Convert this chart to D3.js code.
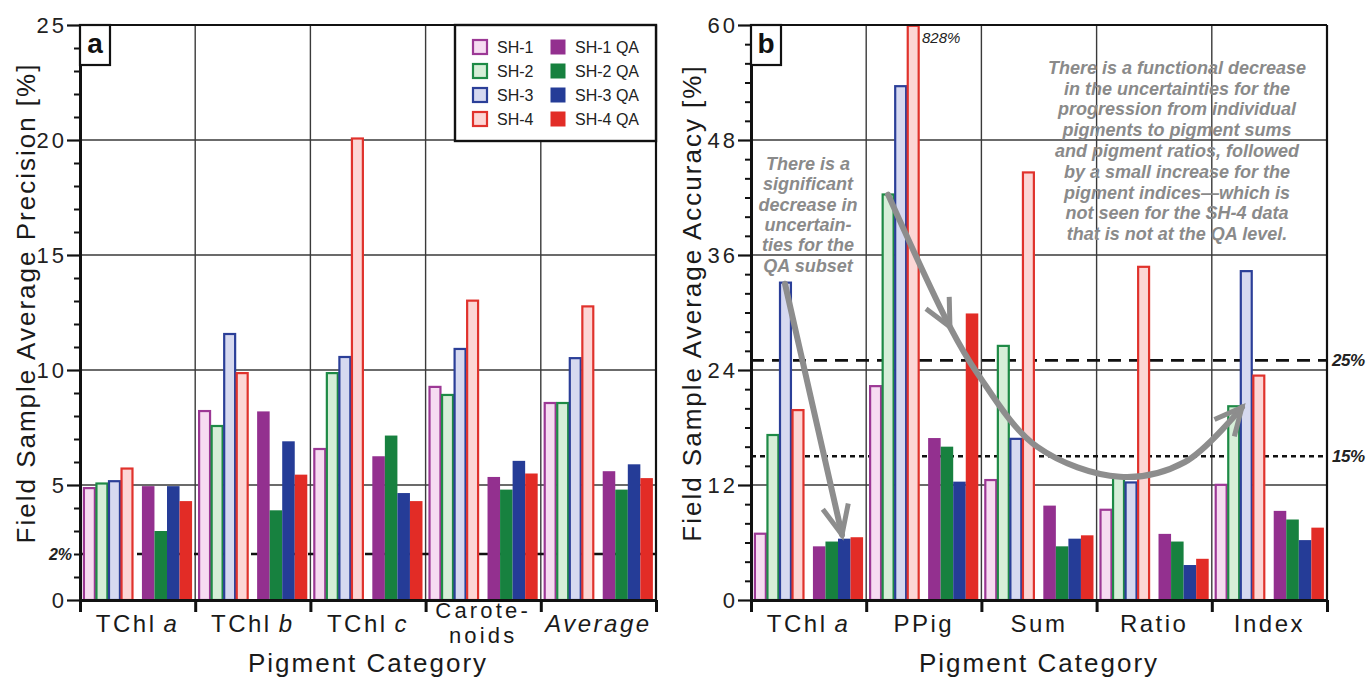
<!DOCTYPE html>
<html><head><meta charset="utf-8">
<script src="https://cdn.jsdelivr.net/npm/d3@7"></script>
<style>
body{margin:0;background:#fff}
svg{display:block}
text{font-family:"Liberation Sans",Arial,Helvetica,sans-serif}
</style>
</head><body>
<svg id="chart" width="1372" height="677"></svg>
<script>
// ---------------- DATA ----------------
const seriesNames = ["SH-1","SH-2","SH-3","SH-4","SH-1 QA","SH-2 QA","SH-3 QA","SH-4 QA"];

// Panel a: Field Sample Average Precision [%]
const catsA = ["TChl a","TChl b","TChl c","Carotenoids","Average"];
const sh1A   = [4.9, 8.25, 6.6, 9.3, 8.6];
const sh2A   = [5.1, 7.6, 9.9, 8.95, 8.6];
const sh3A   = [5.2, 11.6, 10.6, 10.95, 10.55];
const sh4A   = [5.75, 9.9, 20.1, 13.05, 12.8];
const sh1qaA = [4.95, 8.2, 6.25, 5.35, 5.6];
const sh2qaA = [3.0, 3.9, 7.15, 4.8, 4.8];
const sh3qaA = [4.95, 6.9, 4.65, 6.05, 5.9];
const sh4qaA = [4.3, 5.45, 4.3, 5.5, 5.3];
const majorTicksA = [0, 5, 10, 15, 20, 25];
const refA = [2];
const refLabelsA = ["2%"];

// Panel b: Field Sample Average Accuracy [%]
const catsB = ["TChl a","PPig","Sum","Ratio","Index"];
const sh1B   = [7.0, 22.4, 12.6, 9.5, 12.1];
const sh2B   = [17.3, 42.4, 26.6, 13.0, 20.3];
const sh3B   = [33.2, 53.7, 16.9, 12.35, 34.4];
const sh4B   = [19.9, 828, 44.7, 34.85, 23.5];
const sh1qaB = [5.6, 16.9, 9.85, 6.9, 9.3];
const sh2qaB = [6.1, 16.0, 5.6, 6.1, 8.4];
const sh3qaB = [6.4, 12.35, 6.4, 3.65, 6.25];
const sh4qaB = [6.55, 29.9, 6.75, 4.3, 7.55];
const majorTicksB = [0, 12, 24, 36, 48, 60];
const refB = [25, 15];
const refLabelsB = ["25%", "15%"];
const clipLabelB = "828%";

const noteLeft = ["There is a","significant","decrease in","uncertain-","ties for the","QA subset"];
const noteRight = ["There is a functional decrease","in the uncertainties for the","progression from individual",
  "pigments to pigment sums","and pigment ratios, followed","by a small increase for the",
  "pigment indices\u2014which is","not seen for the SH-4 data","that is not at the QA level."];

// annotation arrow paths in data space: [category position, value]
const arrow1 = [[0.295, 33.0], [0.79, 6.8]];
const arrow2 = [[1.19, 42.3], [1.727, 28.5], [1.962, 23.7], [2.483, 16.0], [3.203, 12.85], [3.767, 14.4], [4.262, 20.1]];

// ---------------- STYLE ----------------
const outlineColors = ["#9c3895","#1e8a46","#2b3f98","#e0322c"];
const lightFills    = ["#f6dcf1","#d6eed8","#d6d9f0","#fcd6d5"];
const qaColors      = ["#93308f","#17813f","#253c97","#e22c26"];
const gridColor = "#3a3a3a";
const noteColor = "#8a8a8a";
const T = 25, B = 600;

const svg = d3.select("#chart");

function drawPanel(p) {
  const g = svg.append("g");
  const n = p.cats.length;
  const x0 = d3.scaleBand().domain(p.cats).range([p.L, p.R]).paddingInner(0).paddingOuter(0);
  const xLin = d3.scaleLinear().domain([0, n]).range([p.L, p.R]);
  const y = d3.scaleLinear().domain([0, p.yMax]).range([B, T]).clamp(true);

  // gridlines
  g.append("g").selectAll("line").data(p.major.filter(v => v > 0 && v < p.yMax)).join("line")
    .attr("x1", p.L).attr("x2", p.R).attr("y1", d => y(d)).attr("y2", d => y(d))
    .attr("stroke", gridColor).attr("stroke-width", 1.4);
  g.append("g").selectAll("line").data(d3.range(1, n)).join("line")
    .attr("x1", d => xLin(d)).attr("x2", d => xLin(d)).attr("y1", T).attr("y2", B)
    .attr("stroke", gridColor).attr("stroke-width", 1.4);

  // reference lines
  g.append("g").selectAll("line").data(p.refs).join("line")
    .attr("x1", p.L).attr("x2", p.R).attr("y1", d => y(d)).attr("y2", d => y(d))
    .attr("stroke", "#111").attr("stroke-width", 2.6)
    .attr("stroke-dasharray", (d, i) => p.dash[i]);

  // bars
  const bw = x0.bandwidth();
  const pad = bw * 0.027, gap = bw * 0.075;
  const barW = (bw - 2 * pad - gap) / 8;
  p.series.forEach((vals, s) => {
    const qa = s >= 4, k = s % 4;
    const off = pad + (qa ? 4 * barW + gap : 0) + k * barW;
    g.append("g").selectAll("rect").data(p.cats.map((c, i) => ({c, v: vals[i]}))).join("rect")
      .attr("x", d => x0(d.c) + off + (qa ? 0 : 0.8))
      .attr("width", barW - (qa ? 0 : 1.6))
      .attr("y", d => y(d.v) + (qa ? 0 : 0.8))
      .attr("height", d => y(0) - y(d.v) - (qa ? 0 : 0.8))
      .attr("fill", qa ? qaColors[k] : lightFills[k])
      .attr("stroke", qa ? "none" : outlineColors[k])
      .attr("stroke-width", 2.2);
  });

  // frame: top and right
  g.append("line").attr("x1", p.L).attr("x2", p.R).attr("y1", T).attr("y2", T)
    .attr("stroke", "#111").attr("stroke-width", 2.2);
  g.append("line").attr("x1", p.R).attr("x2", p.R).attr("y1", T).attr("y2", B)
    .attr("stroke", "#111").attr("stroke-width", 2.2);

  // y axis minor
  const minor = d3.range(0, p.yMax + 0.001, p.minorStep).filter(v => !p.major.includes(v));
  g.append("g").attr("transform", `translate(${p.L},0)`)
    .call(d3.axisLeft(y).tickValues(minor).tickSize(6).tickSizeOuter(0).tickFormat(""))
    .call(a => a.select(".domain").remove())
    .call(a => a.selectAll(".tick line").attr("stroke", "#111").attr("stroke-width", 2));
  // y axis major
  g.append("g").attr("transform", `translate(${p.L},0)`)
    .call(d3.axisLeft(y).tickValues(p.major).tickSize(13).tickSizeOuter(0).tickPadding(0).tickFormat(d3.format("d")))
    .call(a => a.select(".domain").attr("stroke", "#111").attr("stroke-width", 3))
    .call(a => a.selectAll(".tick line").attr("stroke", "#111").attr("stroke-width", 2.2))
    .call(a => a.selectAll(".tick text").attr("font-size", 22).attr("letter-spacing", 3)
      .attr("fill", "#222").attr("font-family", "'Liberation Sans',Arial,sans-serif"));

  // x axis
  g.append("g").attr("transform", `translate(0,${B})`)
    .call(d3.axisBottom(xLin).tickValues(d3.range(0, n + 1)).tickSize(12).tickSizeOuter(0).tickFormat(""))
    .call(a => a.select(".domain").attr("stroke", "#111").attr("stroke-width", 3.2))
    .call(a => a.selectAll(".tick line").attr("stroke", "#111").attr("stroke-width", 3));

  // category labels
  p.cats.forEach((c, i) => {
    const cx = x0(c) + bw / 2;
    const lab = p.labels[i];
    if (lab.lines) {
      const t = g.append("text").attr("text-anchor", "middle")
        .attr("font-size", 22).attr("letter-spacing", 3.2).attr("fill", "#1a1a1a");
      lab.lines.forEach((ln, j) => t.append("tspan").attr("x", cx).attr("y", 618 + j * 24.7).text(ln));
    } else {
      const t = g.append("text").attr("x", cx).attr("y", 632).attr("text-anchor", "middle")
        .attr("font-size", 24).attr("letter-spacing", 2.5).attr("fill", "#1a1a1a");
      if (lab.plain) t.append("tspan").text(lab.plain);
      if (lab.ital) t.append("tspan").attr("font-style", "italic").attr("dx", lab.plain ? 7 : 0).text(lab.ital);
    }
  });

  // axis titles
  g.append("text").attr("x", (p.L + p.R) / 2).attr("y", 672).attr("text-anchor", "middle")
    .attr("font-size", 26).attr("letter-spacing", 2).attr("fill", "#1a1a1a").text("Pigment Category");
  g.append("text").attr("transform", `translate(${p.ytX},303) rotate(-90)`).attr("text-anchor", "middle")
    .attr("font-size", 26).attr("letter-spacing", 2).attr("fill", "#1a1a1a").text(p.yTitle);

  // panel letter
  g.append("rect").attr("x", p.L).attr("y", T).attr("width", 30).attr("height", 40)
    .attr("fill", "#fff").attr("stroke", "#111").attr("stroke-width", 2.2);
  g.append("text").attr("x", p.L + 15).attr("y", T + 28).attr("text-anchor", "middle")
    .attr("font-family", "'Liberation Serif','Times New Roman',serif").attr("font-weight", "bold")
    .attr("font-size", 28).attr("fill", "#111").text(p.letter);

  return {g, x0, xLin, y};
}

const barsA = [sh1A, sh2A, sh3A, sh4A, sh1qaA, sh2qaA, sh3qaA, sh4qaA];
const barsB = [sh1B, sh2B, sh3B, sh4B, sh1qaB, sh2qaB, sh3qaB, sh4qaB];

const A = drawPanel({
  L: 80, R: 656, yMax: 25, major: majorTicksA, minorStep: 1, cats: catsA, series: barsA,
  refs: refA, dash: ["12,7"], letter: "a", ytX: 35,
  yTitle: "Field Sample Average Precision [%]",
  labels: [{plain: "TChl", ital: "a"}, {plain: "TChl", ital: "b"}, {plain: "TChl", ital: "c"},
           {lines: ["Carote-", "noids"]}, {ital: "Average"}]
});
const Bp = drawPanel({
  L: 751, R: 1327, yMax: 60, major: majorTicksB, minorStep: 2, cats: catsB, series: barsB,
  refs: refB, dash: ["13,8", "5,4"], letter: "b", ytX: 701,
  yTitle: "Field Sample Average Accuracy [%]",
  labels: [{plain: "TChl", ital: "a"}, {plain: "PPig"}, {plain: "Sum"}, {plain: "Ratio"}, {plain: "Index"}]
});

// reference line labels
A.g.append("text").attr("x", 72).attr("y", A.y(refA[0])).attr("dy", "0.35em").attr("text-anchor", "end")
  .attr("font-size", 16).attr("font-weight", "bold").attr("font-style", "italic").attr("fill", "#222")
  .text(refLabelsA[0]);
refB.forEach((v, i) => {
  Bp.g.append("text").attr("x", 1332).attr("y", Bp.y(v)).attr("dy", "0.35em")
    .attr("font-size", 17).attr("font-weight", "bold").attr("font-style", "italic").attr("fill", "#222")
    .attr("letter-spacing", -0.5).text(refLabelsB[i]);
});
// clipped bar label
Bp.g.append("text").attr("x", Bp.xLin(1.484)).attr("y", Bp.y(58.1))
  .attr("font-size", 15).attr("font-style", "italic").attr("fill", "#222").text(clipLabelB);

// legend
const leg = A.g.append("g");
const lx = 455, ly = T, lw = 656 - 455, lh = 116;
leg.append("rect").attr("x", lx).attr("y", ly).attr("width", lw).attr("height", lh)
  .attr("fill", "#fff").attr("stroke", "#111").attr("stroke-width", 2.4);
seriesNames.forEach((name, s) => {
  const qa = s >= 4, k = s % 4;
  const cy = ly + 22 + k * 24;
  const sx = lx + (qa ? 95 : 17);
  leg.append("rect").attr("x", sx + 1).attr("y", cy - 7).attr("width", 14).attr("height", 14)
    .attr("fill", qa ? qaColors[k] : lightFills[k]).attr("stroke", qa ? qaColors[k] : outlineColors[k])
    .attr("stroke-width", qa ? 1 : 2.2);
  leg.append("text").attr("x", sx + 25).attr("y", cy).attr("dy", "0.36em")
    .attr("font-size", 16).attr("fill", "#222").text(name);
});

// annotation notes
const nL = Bp.g.append("text").attr("text-anchor", "middle").attr("font-size", 18)
  .attr("font-weight", "bold").attr("font-style", "italic").attr("fill", noteColor);
noteLeft.forEach((t, i) => nL.append("tspan").attr("x", Bp.xLin(0.495)).attr("y", Bp.y(44.9) + i * 20.4).text(t));
const nR = Bp.g.append("text").attr("text-anchor", "middle").attr("font-size", 18)
  .attr("font-weight", "bold").attr("font-style", "italic").attr("fill", noteColor);
noteRight.forEach((t, i) => nR.append("tspan").attr("x", Bp.xLin(3.698)).attr("y", Bp.y(54.9) + i * 20.8).text(t));

// arrows
const arrowColor = "#8d8d8d";
function head(g, tip, ang, len, spread) {
  const a1 = ang + Math.PI - spread, a2 = ang + Math.PI + spread;
  g.append("path")
    .attr("d", `M${tip[0] + len * Math.cos(a1)},${tip[1] + len * Math.sin(a1)}L${tip[0]},${tip[1]}L${tip[0] + len * Math.cos(a2)},${tip[1] + len * Math.sin(a2)}`)
    .attr("fill", "none").attr("stroke", arrowColor).attr("stroke-width", 5).attr("stroke-linejoin", "miter");
}
const toPx = d => [Bp.xLin(d[0]), Bp.y(d[1])];
const ag = Bp.g.append("g");
const a1 = arrow1.map(toPx);
ag.append("path").attr("d", d3.line()(a1)).attr("fill", "none").attr("stroke", arrowColor)
  .attr("stroke-width", 6).attr("stroke-linecap", "round");
head(ag, a1[1], Math.atan2(a1[1][1] - a1[0][1], a1[1][0] - a1[0][0]), 32, 0.42);

const a2 = arrow2.map(toPx);
const curve = ag.append("path").attr("d", d3.line().curve(d3.curveCatmullRom.alpha(0.5))(a2))
  .attr("fill", "none").attr("stroke", arrowColor).attr("stroke-width", 6).attr("stroke-linecap", "round");
const node = curve.node();
const total = node.getTotalLength();
function headAt(pt) {
  let best = 0, bd = 1e9;
  for (let l = 0; l <= total; l += 1) {
    const q = node.getPointAtLength(l);
    const dd = (q.x - pt[0]) ** 2 + (q.y - pt[1]) ** 2;
    if (dd < bd) { bd = dd; best = l; }
  }
  const q1 = node.getPointAtLength(Math.max(0, best - 8)), q2 = node.getPointAtLength(best);
  head(ag, [q2.x, q2.y], Math.atan2(q2.y - q1.y, q2.x - q1.x), 30, 0.45);
}
headAt(a2[1]);
headAt(a2[a2.length - 1]);
</script>
</body></html>
